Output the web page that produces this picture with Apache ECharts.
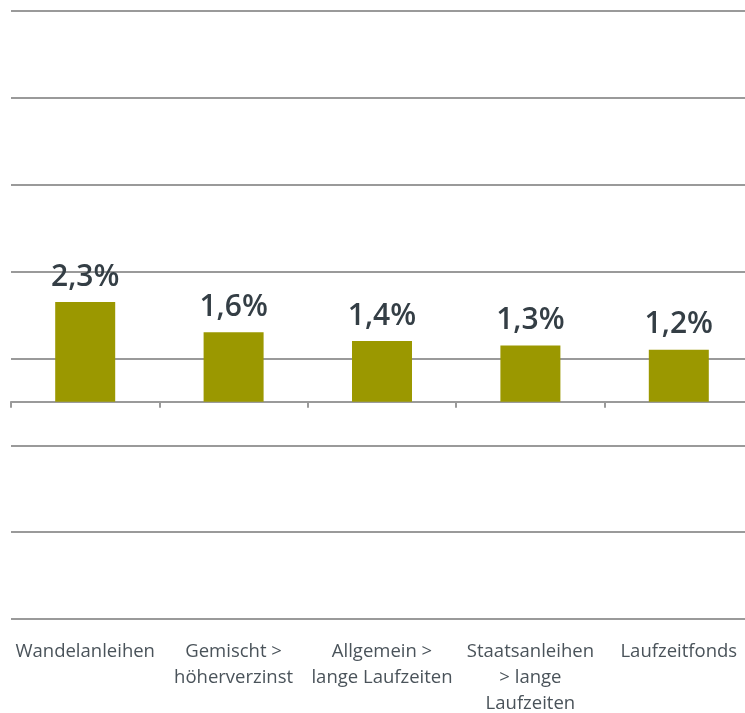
<!DOCTYPE html>
<html>
<head>
<meta charset="utf-8">
<script src="https://cdn.jsdelivr.net/npm/echarts@6/dist/echarts.min.js"></script>
<style>
  html, body { margin: 0; padding: 0; background: #fff; }
  #chart { width: 745px; height: 713px; }
</style>
</head>
<body>
<div id="chart"></div>
<script>
// Kategorien und Werte (in %)
var categories = ['Wandelanleihen', 'Gemischt >\nhöherverzinst', 'Allgemein >\nlange Laufzeiten', 'Staatsanleihen\n> lange\nLaufzeiten', 'Laufzeitfonds'];
var values = [2.3, 1.6, 1.4, 1.3, 1.2];

var myChart = echarts.init(document.getElementById('chart'));

var option = {
    backgroundColor: '#fff',
    animation: false,
    textStyle: { fontFamily: 'Open Sans' },
    grid: { left: 11, top: 11, width: 742, height: 608, containLabel: false, outerBoundsMode: 'none' },
    xAxis: [
        {
            type: 'category',
            data: categories,
            axisLine: { onZero: true, lineStyle: { color: '#9a9a9a', width: 2 } },
            axisTick: { show: true, length: 6, lineStyle: { color: '#9a9a9a', width: 2 } },
            axisLabel: { show: false }
        },
        {
            type: 'category',
            data: categories,
            position: 'bottom',
            axisLine: { show: false, onZero: false },
            axisTick: { show: false },
            axisLabel: { show: true, margin: 20, fontSize: 18.5, lineHeight: 26, color: '#4a535a', interval: 0 }
        }
    ],
    yAxis: {
        type: 'value',
        min: -5,
        max: 9,
        interval: 2,
        axisLabel: { show: false },
        axisLine: { show: false },
        axisTick: { show: false },
        splitLine: { show: true, lineStyle: { color: '#9a9a9a', width: 2 } }
    },
    series: [
        {
            type: 'bar',
            xAxisIndex: 0,
            data: values,
            barWidth: 60,
            itemStyle: { color: '#9b9800' },
            label: {
                show: true,
                position: 'top',
                distance: 10,
                fontSize: 30,
                fontWeight: 600,
                color: '#343e45',
                formatter: function (p) { return String(p.value).replace('.', ',') + '%'; }
            }
        }
    ]
};

myChart.setOption(option);
</script>
</body>
</html>
